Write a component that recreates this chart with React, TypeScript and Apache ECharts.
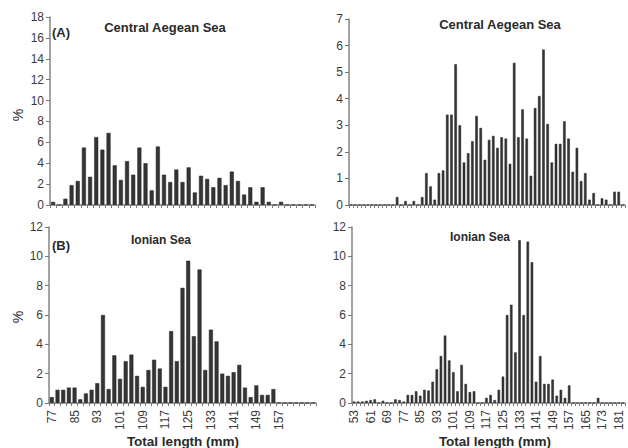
import React, { useEffect, useRef } from "react";
import * as echarts from "echarts";

// Top-left: Central Aegean Sea (A), 2 mm classes (axis unlabeled)
const tlCategories = [
  77, 79, 81, 83, 85, 87, 89, 91, 93, 95, 97, 99, 101, 103, 105, 107, 109, 111, 113, 115, 117, 119,
  121, 123, 125, 127, 129, 131, 133, 135, 137, 139, 141, 143, 145, 147, 149, 151, 153, 155, 157, 159, 161,
];
const tlValues = [
  0.3, 0, 0.6, 1.9, 2.3, 5.5, 2.7, 6.5, 5.3, 6.9, 3.8, 2.4, 4.2, 2.9, 5.5, 4.0, 1.4, 5.6, 2.9, 2.2, 3.4, 2.2,
  3.6, 1.2, 2.8, 2.5, 1.7, 2.6, 1.9, 3.2, 2.3, 1.0, 1.7, 0.3, 1.7, 0.3, 0, 0.3, 0, 0, 0, 0, 0,
];

// Bottom-left: Ionian Sea (B)
const blCategories = [
  77, 79, 81, 83, 85, 87, 89, 91, 93, 95, 97, 99, 101, 103, 105, 107, 109, 111, 113, 115, 117, 119,
  121, 123, 125, 127, 129, 131, 133, 135, 137, 139, 141, 143, 145, 147, 149, 151, 153, 155, 157, 159,
  161, 163, 165, 167, 169,
];
const blValues = [
  0.4, 0.9, 0.9, 1.05, 1.05, 0.25, 0.65, 0.9, 1.35, 6.0, 0.95, 3.25, 1.65, 2.85, 3.3, 1.85, 1.1, 2.25,
  2.95, 2.35, 1.1, 4.9, 2.85, 7.85, 9.7, 4.55, 9.1, 2.25, 5.0, 4.2, 2.0, 1.85, 2.1, 2.6, 1.05, 0.4, 1.2,
  0.55, 0.55, 0.95, 0, 0, 0, 0, 0, 0, 0,
];

// Right column: 53 .. 183 mm
const rCategories = [
  53, 55, 57, 59, 61, 63, 65, 67, 69, 71, 73, 75, 77, 79, 81, 83, 85, 87, 89, 91, 93, 95, 97, 99, 101,
  103, 105, 107, 109, 111, 113, 115, 117, 119, 121, 123, 125, 127, 129, 131, 133, 135, 137, 139, 141,
  143, 145, 147, 149, 151, 153, 155, 157, 159, 161, 163, 165, 167, 169, 171, 173, 175, 177, 179, 181, 183,
];
const trValues = [
  0, 0, 0, 0, 0, 0, 0, 0, 0, 0, 0, 0.3, 0, 0.15, 0, 0.15, 0, 0.3, 1.2, 0.7, 0.2, 1.2, 1.3, 3.4, 3.4,
  5.3, 3.0, 1.6, 1.95, 2.4, 3.35, 2.9, 1.7, 2.45, 2.6, 2.15, 2.55, 2.5, 1.55, 5.35, 2.55, 3.6, 2.5, 1.1,
  3.65, 4.1, 5.85, 3.05, 1.6, 2.3, 2.3, 3.15, 2.5, 1.25, 2.15, 0.9, 1.2, 0.2, 0.45, 0, 0.25, 0.2, 0,
  0.5, 0.5, 0,
];
const brValues = [
  0.1, 0.1, 0.1, 0.15, 0.2, 0.25, 0, 0.15, 0, 0, 0.25, 0.2, 0.1, 0.55, 0.55, 0.8, 0.5, 0.9, 0.85, 1.45,
  2.3, 3.2, 4.6, 2.9, 2.1, 0.8, 2.6, 1.3, 0.75, 0.8, 0, 0, 0.35, 0.55, 0.2, 0.9, 1.8, 6.0, 6.7, 3.45,
  11.1, 6.0, 11.0, 9.6, 1.45, 3.2, 1.3, 1.3, 1.6, 0.5, 0.9, 0.35, 1.2, 0, 0, 0, 0, 0, 0, 0.35, 0, 0, 0,
  0, 0, 0,
];

const AXIS = "#858585";
const TXT = "#3a3a3a";
const BAR = "#353535";
const FONT = "Liberation Sans, Arial, sans-serif";

function xAx(gridIndex: number, cats: number[], labelFn: ((i: number) => boolean) | null) {
  return {
    type: "category",
    gridIndex,
    data: cats.map(String),
    axisLine: { lineStyle: { color: AXIS, width: 1.5 } },
    axisTick: { show: true, interval: 0, length: 3, lineStyle: { color: "#777" } },
    axisLabel: labelFn
      ? {
          show: true,
          interval: (i: number) => labelFn(i),
          rotate: 90,
          margin: 7,
          color: TXT,
          fontSize: 12,
          fontFamily: FONT,
        }
      : { show: false },
    splitLine: { show: false },
  };
}

function yAx(gridIndex: number, max: number, interval: number) {
  return {
    type: "value",
    gridIndex,
    min: 0,
    max,
    interval,
    axisLine: { show: true, lineStyle: { color: AXIS, width: 1.5 } },
    axisTick: { show: true, length: 4, lineStyle: { color: "#777" } },
    axisLabel: { color: TXT, fontSize: 12, fontFamily: FONT, margin: 6 },
    splitLine: { show: false },
  };
}

function barSeries(idx: number, data: number[], gap: string) {
  return {
    type: "bar",
    xAxisIndex: idx,
    yAxisIndex: idx,
    data,
    barCategoryGap: gap,
    itemStyle: { color: BAR, borderColor: "#1e1e1e", borderWidth: 0.5 },
    silent: true,
  };
}

function txt(x: number, y: number, text: string, size: number, bold: boolean, align = "center", rotation = 0) {
  return {
    type: "text",
    x,
    y,
    rotation,
    silent: true,
    style: {
      text,
      font: `${bold ? "bold " : ""}${size}px ${FONT}`,
      fill: "#2a2a2a",
      textAlign: align,
      textVerticalAlign: "middle",
    },
  };
}

export default function App() {
  const ref = useRef<HTMLDivElement>(null);
  useEffect(() => {
    if (!ref.current) return;
    const chart = echarts.init(ref.current, undefined, { renderer: "svg" });
    chart.setOption({
      animation: false,
      backgroundColor: "#ffffff",
      grid: [
        { left: 50, top: 17, width: 265, height: 188 },
        { left: 349, top: 19, width: 276, height: 186 },
        { left: 49, top: 227, width: 267, height: 176 },
        { left: 352, top: 227, width: 273, height: 176 },
      ],
      xAxis: [
        xAx(0, tlCategories, null),
        xAx(1, rCategories, null),
        xAx(2, blCategories, (i) => i % 4 === 0 && i <= 40),
        xAx(3, rCategories, (i) => i % 4 === 0),
      ],
      yAxis: [yAx(0, 18, 2), yAx(1, 7, 1), yAx(2, 12, 2), yAx(3, 12, 2)],
      series: [
        barSeries(0, tlValues, "35%"),
        barSeries(1, trValues, "40%"),
        barSeries(2, blValues, "30%"),
        barSeries(3, brValues, "40%"),
      ],
      graphic: [
        txt(165, 27, "Central Aegean Sea", 13, true),
        txt(52, 32, "(A)", 13, true, "left"),
        txt(500, 24, "Central Aegean Sea", 13, true),
        txt(161, 240, "Ionian Sea", 12, true),
        txt(52, 245, "(B)", 13, true, "left"),
        txt(480, 237, "Ionian Sea", 12, true),
        txt(183, 441, "Total length (mm)", 13.5, true),
        txt(495, 441, "Total length (mm)", 13.5, true),
        txt(18, 115, "%", 14, false, "center", Math.PI / 2),
        txt(18, 317, "%", 14, false, "center", Math.PI / 2),
      ],
    });
    return () => chart.dispose();
  }, []);
  return (
    <div
      ref={ref}
      style={{ position: "fixed", left: 0, top: 0, width: 628, height: 448, background: "#fff" }}
    />
  );
}
